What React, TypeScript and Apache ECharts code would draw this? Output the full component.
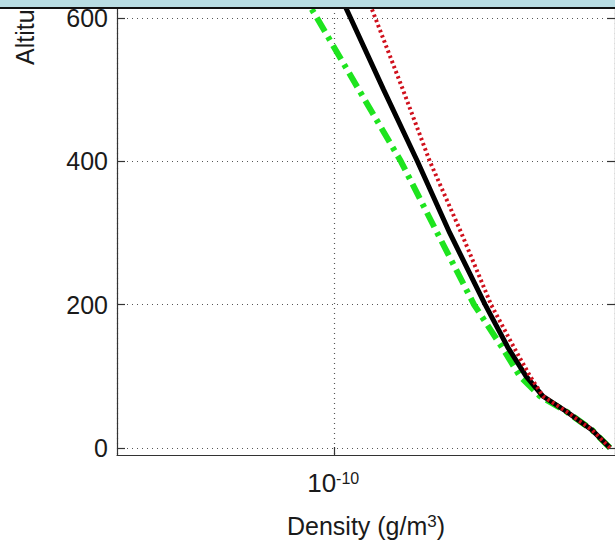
import React, { useEffect, useRef } from 'react';
import * as echarts from 'echarts';

// Altitude samples shared by the three profiles
const altitudes = [0, 25, 50, 72, 100, 140, 200, 300, 400, 500, 600, 640];
// Density (g/m^3) for each profile
const densitySolid = [5.81e-10, 5.18e-10, 4.42e-10, 3.79e-10, 3.4e-10, 3.03e-10, 2.62e-10, 2.09e-10, 1.7e-10, 1.37e-10, 1.11e-10, 1.02e-10];
const densityDotted = [5.81e-10, 5.18e-10, 4.42e-10, 3.79e-10, 3.49e-10, 3.15e-10, 2.72e-10, 2.25e-10, 1.84e-10, 1.55e-10, 1.3e-10, 1.21e-10];
const densityDashDot = [5.81e-10, 5.18e-10, 4.42e-10, 3.72e-10, 3.27e-10, 2.92e-10, 2.44e-10, 1.93e-10, 1.53e-10, 1.17e-10, 8.96e-11, 8.04e-11];
// Tick values
const yTicks = [0, 200, 400, 600];
const yRange = [-10, 614];
const xRange = [2.5e-11, 6e-10];

const FONT = '"Liberation Sans", Arial, Helvetica, sans-serif';
const TEXT = '#1a1a1a';
const AXIS = '#333333';

const pairs = (xs: number[]) => xs.map((x, i) => [x, altitudes[i]]);

export default function App() {
  const ref = useRef<HTMLDivElement>(null);
  useEffect(() => {
    if (!ref.current) return;
    const chart = echarts.init(ref.current, undefined, { renderer: 'svg' });
    const gridLine = { show: true, lineStyle: { color: '#555', type: [1, 4] as any, width: 1.2 } };
    const option: any = {
      animation: false,
      backgroundColor: '#ffffff',
      grid: { left: 117, right: 0, top: 8, bottom: 92, containLabel: false },
      xAxis: {
        type: 'log',
        logBase: 10,
        min: xRange[0],
        max: xRange[1],
        axisLine: { show: true, onZero: false, lineStyle: { color: AXIS, width: 1.2 } },
        axisTick: { show: true, inside: true, length: 8, lineStyle: { color: AXIS, width: 1.2 } },
        minorTick: { show: false },
        minorSplitLine: { show: false },
        splitLine: gridLine,
        axisLabel: {
          margin: 15,
          showMinLabel: false,
          showMaxLabel: false,
          formatter: (v: number) => {
            const e = Math.log10(v);
            if (Math.abs(e - Math.round(e)) > 1e-6) return '';
            return '{b|10}{s|' + Math.round(e) + '}';
          },
          rich: {
            b: { fontSize: 26, fontFamily: FONT, color: TEXT, verticalAlign: 'bottom', lineHeight: 26 },
            s: { fontSize: 16, fontFamily: FONT, color: TEXT, verticalAlign: 'top', lineHeight: 16, padding: [0, 2, 14, 0] },
          },
        },
        name: '{n|Density (g/m}{s|3}{n|)}',
        nameLocation: 'middle',
        nameGap: 58,
        nameTextStyle: {
          rich: {
            n: { fontSize: 25, fontFamily: FONT, color: TEXT, verticalAlign: 'bottom', lineHeight: 25 },
            s: { fontSize: 17, fontFamily: FONT, color: TEXT, verticalAlign: 'top', lineHeight: 17, padding: [0, 0, 14, 0] },
          },
        },
      },
      yAxis: [
        {
          type: 'value',
          position: 'left',
          min: yRange[0],
          max: yRange[1],
          axisLine: { show: true, onZero: false, lineStyle: { color: AXIS, width: 1.2 } },
          axisTick: { show: true, inside: true, length: 8, customValues: yTicks, lineStyle: { color: AXIS, width: 1.2 } },
          axisLabel: { show: true, customValues: yTicks, fontSize: 25, fontFamily: FONT, color: TEXT, margin: 9 },
          splitLine: gridLine,
        },
        {
          type: 'value',
          position: 'right',
          min: yRange[0],
          max: yRange[1],
          axisLine: { show: true, onZero: false, lineStyle: { color: AXIS, width: 1.2 } },
          axisTick: { show: true, inside: true, length: 8, customValues: yTicks, lineStyle: { color: AXIS, width: 1.2 } },
          axisLabel: { show: false },
          splitLine: { show: false },
        },
      ],
      series: [
        {
          name: 'dash-dot',
          type: 'line',
          data: pairs(densityDashDot),
          symbol: 'none',
          lineStyle: { color: '#1ee41e', width: 6, type: [16, 6, 4, 6] },
          z: 2,
        },
        {
          name: 'solid',
          type: 'line',
          data: pairs(densitySolid),
          symbol: 'none',
          lineStyle: { color: '#000000', width: 5, type: 'solid' },
          z: 3,
        },
        {
          name: 'dotted',
          type: 'line',
          data: pairs(densityDotted),
          symbol: 'none',
          lineStyle: { color: '#d0101c', width: 4, type: [2.5, 3] },
          z: 4,
        },
      ],
      graphic: [
        {
          type: 'text',
          x: 37,
          y: 65,
          rotation: Math.PI / 2,
          z: 10,
          style: {
            text: 'Altitude (km)',
            fontSize: 25,
            fontFamily: FONT,
            fill: TEXT,
            align: 'left',
            verticalAlign: 'bottom',
            textAlign: 'left',
            textVerticalAlign: 'bottom',
          },
        },
        { type: 'rect', z: 100, shape: { x: 0, y: 0, width: 615, height: 7 }, style: { fill: '#b9dde3' } },
        { type: 'rect', z: 100, shape: { x: 0, y: 7, width: 615, height: 2 }, style: { fill: '#111111' } },
      ],
    };
    chart.setOption(option);
    return () => chart.dispose();
  }, []);
  return (
    <div
      ref={ref}
      style={{ position: 'absolute', left: 0, top: 0, width: 615, height: 549, background: '#fff' }}
    />
  );
}
